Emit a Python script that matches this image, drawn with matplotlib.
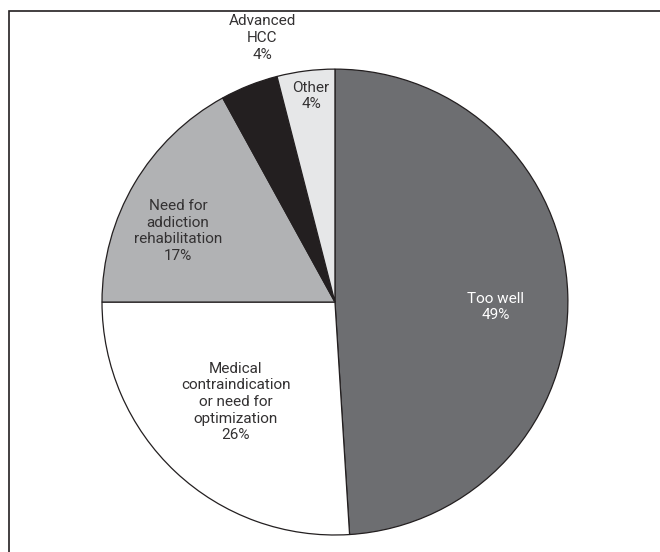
import matplotlib.pyplot as plt
from matplotlib.patches import Rectangle

# Reasons for not being listed (percent of patients)
categories = ['Too well', 'Medical\ncontraindication\nor need for\noptimization',
              'Need for\naddiction\nrehabilitation', 'Advanced\nHCC', 'Other']
shares = [49, 26, 17, 4, 4]

colors = ['#6d6e71', '#ffffff', '#b1b2b4', '#231f20', '#e6e7e8']
text_colors = ['white', '#333132', '#333132', '#333132', '#333132']
# label centres in pie-radius units
label_pos = [(0.691, -0.021), (-0.425, -0.429), (-0.674, 0.305),
             (-0.313, 1.133), (-0.103, 0.884)]

plt.rcParams['font.family'] = ['Roboto', 'DejaVu Sans']

fig = plt.figure(figsize=(6.6, 5.52), dpi=100)
ax = fig.add_axes([0.1545, 0.0308, 0.706, 0.844])

ax.pie(shares, colors=colors, startangle=90, counterclock=False, radius=1,
       wedgeprops=dict(edgecolor='#231f20', linewidth=0.9))

for name, val, pos, tc in zip(categories, shares, label_pos, text_colors):
    ax.text(pos[0], pos[1], '%s\n%d%%' % (name, val), ha='center', va='center',
            multialignment='center', fontsize=11, color=tc, linespacing=1.24)

ax.set_xlim(-1, 1)
ax.set_ylim(-1, 1)
ax.set_aspect('equal')
ax.axis('off')

# outer frame (runs off the right and bottom edges)
fig.patches.append(Rectangle((9 / 660, -0.1), 1.2, 1.1 - 11 / 552, transform=fig.transFigure,
                             fill=False, edgecolor='#231f20', linewidth=1.2))

fig.savefig('out.png', dpi=100)
